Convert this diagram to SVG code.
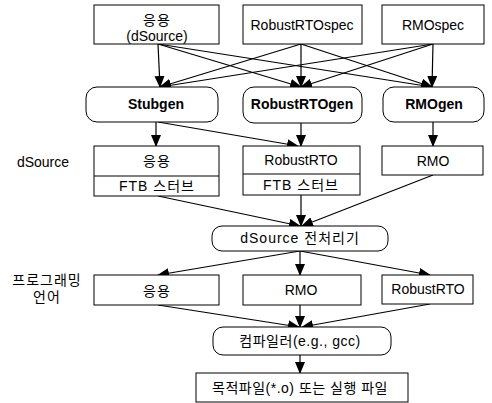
<svg xmlns="http://www.w3.org/2000/svg" width="492" height="403" viewBox="0 0 492 403">
<defs>
<marker id="ah" markerUnits="userSpaceOnUse" markerWidth="12" markerHeight="10" refX="11" refY="5" orient="auto">
<path d="M0,0 L12,5 L0,10 Z" fill="#000"/>
</marker>
<style>
.box{fill:#fff;stroke:#000;stroke-width:1}
.t{font-family:"Liberation Sans","Noto Sans CJK KR",sans-serif;font-size:14px;text-anchor:middle;dominant-baseline:central;fill:#000}
.k{letter-spacing:1px}
.b{font-weight:bold}
.c line{stroke:#000;stroke-width:1.2;marker-end:url(#ah)}
</style>
</defs>
<rect width="492" height="403" fill="#fff"/>
<g class="c" id="connectors">
<line x1="158" y1="44" x2="160" y2="87"/>
<line x1="158" y1="44" x2="301" y2="87"/>
<line x1="158" y1="44" x2="432" y2="87"/>
<line x1="301" y1="44" x2="160" y2="87"/>
<line x1="301" y1="44" x2="301" y2="87"/>
<line x1="301" y1="44" x2="432" y2="87"/>
<line x1="433" y1="44" x2="160" y2="87"/>
<line x1="433" y1="44" x2="301" y2="87"/>
<line x1="433" y1="44" x2="432" y2="87"/>
<line x1="156" y1="122" x2="156" y2="146"/>
<line x1="158" y1="122" x2="298" y2="146"/>
<line x1="301" y1="123" x2="301" y2="146"/>
<line x1="433" y1="122" x2="433" y2="146"/>
<line x1="158" y1="196" x2="300" y2="226"/>
<line x1="301" y1="195" x2="301" y2="226"/>
<line x1="433" y1="175" x2="302" y2="226"/>
<line x1="300" y1="251" x2="158" y2="275"/>
<line x1="300" y1="251" x2="300" y2="275"/>
<line x1="300" y1="251" x2="430" y2="275"/>
<line x1="158" y1="305" x2="299" y2="327"/>
<line x1="300" y1="305" x2="300" y2="327"/>
<line x1="430" y1="304" x2="302" y2="327"/>
<line x1="300" y1="355" x2="300" y2="373"/>
</g>
<g id="app_src"><rect class="box" x="94" y="5" width="125" height="39"/><text class="t k" x="157" y="20">응용</text><text class="t" x="157" y="36">(dSource)</text></g>
<g id="robust_spec"><rect class="box" x="243" y="5" width="119" height="39"/><text class="t" x="302" y="25">RobustRTOspec</text></g>
<g id="rmo_spec"><rect class="box" x="382" y="5" width="102" height="39"/><text class="t" x="433" y="25">RMOspec</text></g>
<g id="stubgen"><rect class="box" x="86" y="87" width="132" height="35" rx="11"/><text class="t b" x="156" y="104">Stubgen</text></g>
<g id="robustgen"><rect class="box" x="243" y="87" width="119" height="36" rx="11"/><text class="t b" x="302" y="104">RobustRTOgen</text></g>
<g id="rmogen"><rect class="box" x="383" y="87" width="101" height="35" rx="11"/><text class="t b" x="434" y="104">RMOgen</text></g>
<g id="label_dsource"><text class="t" x="43" y="162">dSource</text></g>
<g id="app_mid"><rect class="box" x="94" y="146" width="125" height="50"/><line x1="94" y1="176" x2="219" y2="176" stroke="#000"/><text class="t k" x="157" y="161">응용</text><text class="t k" x="157" y="186">FTB 스터브</text></g>
<g id="robust_mid"><rect class="box" x="243" y="146" width="117" height="49"/><line x1="243" y1="174" x2="360" y2="174" stroke="#000"/><text class="t" x="301" y="160">RobustRTO</text><text class="t k" x="301" y="185">FTB 스터브</text></g>
<g id="rmo_mid"><rect class="box" x="382" y="146" width="101" height="29"/><text class="t" x="433" y="161">RMO</text></g>
<g id="preproc"><rect class="box" x="212" y="226" width="176" height="25" rx="10"/><text class="t k" x="300" y="238">dSource 전처리기</text></g>
<g id="label_lang"><text class="t k" x="47" y="280">프로그래밍</text><text class="t k" x="47" y="297">언어</text></g>
<g id="app_low"><rect class="box" x="94" y="275" width="125" height="30"/><text class="t k" x="157" y="291">응용</text></g>
<g id="rmo_low"><rect class="box" x="243" y="275" width="118" height="30"/><text class="t" x="301" y="290">RMO</text></g>
<g id="robust_low"><rect class="box" x="382" y="275" width="91" height="29"/><text class="t" x="428" y="289">RobustRTO</text></g>
<g id="compiler"><rect class="box" x="213" y="327" width="178" height="28" rx="10"/><text class="t" x="300" y="341" style="letter-spacing:0.5px">컴파일러(e.g., gcc)</text></g>
<g id="output"><rect class="box" x="196" y="373" width="212" height="29"/><text class="t" x="300" y="388" style="letter-spacing:0.5px">목적파일(*.o) 또는 실행 파일</text></g>
</svg>
